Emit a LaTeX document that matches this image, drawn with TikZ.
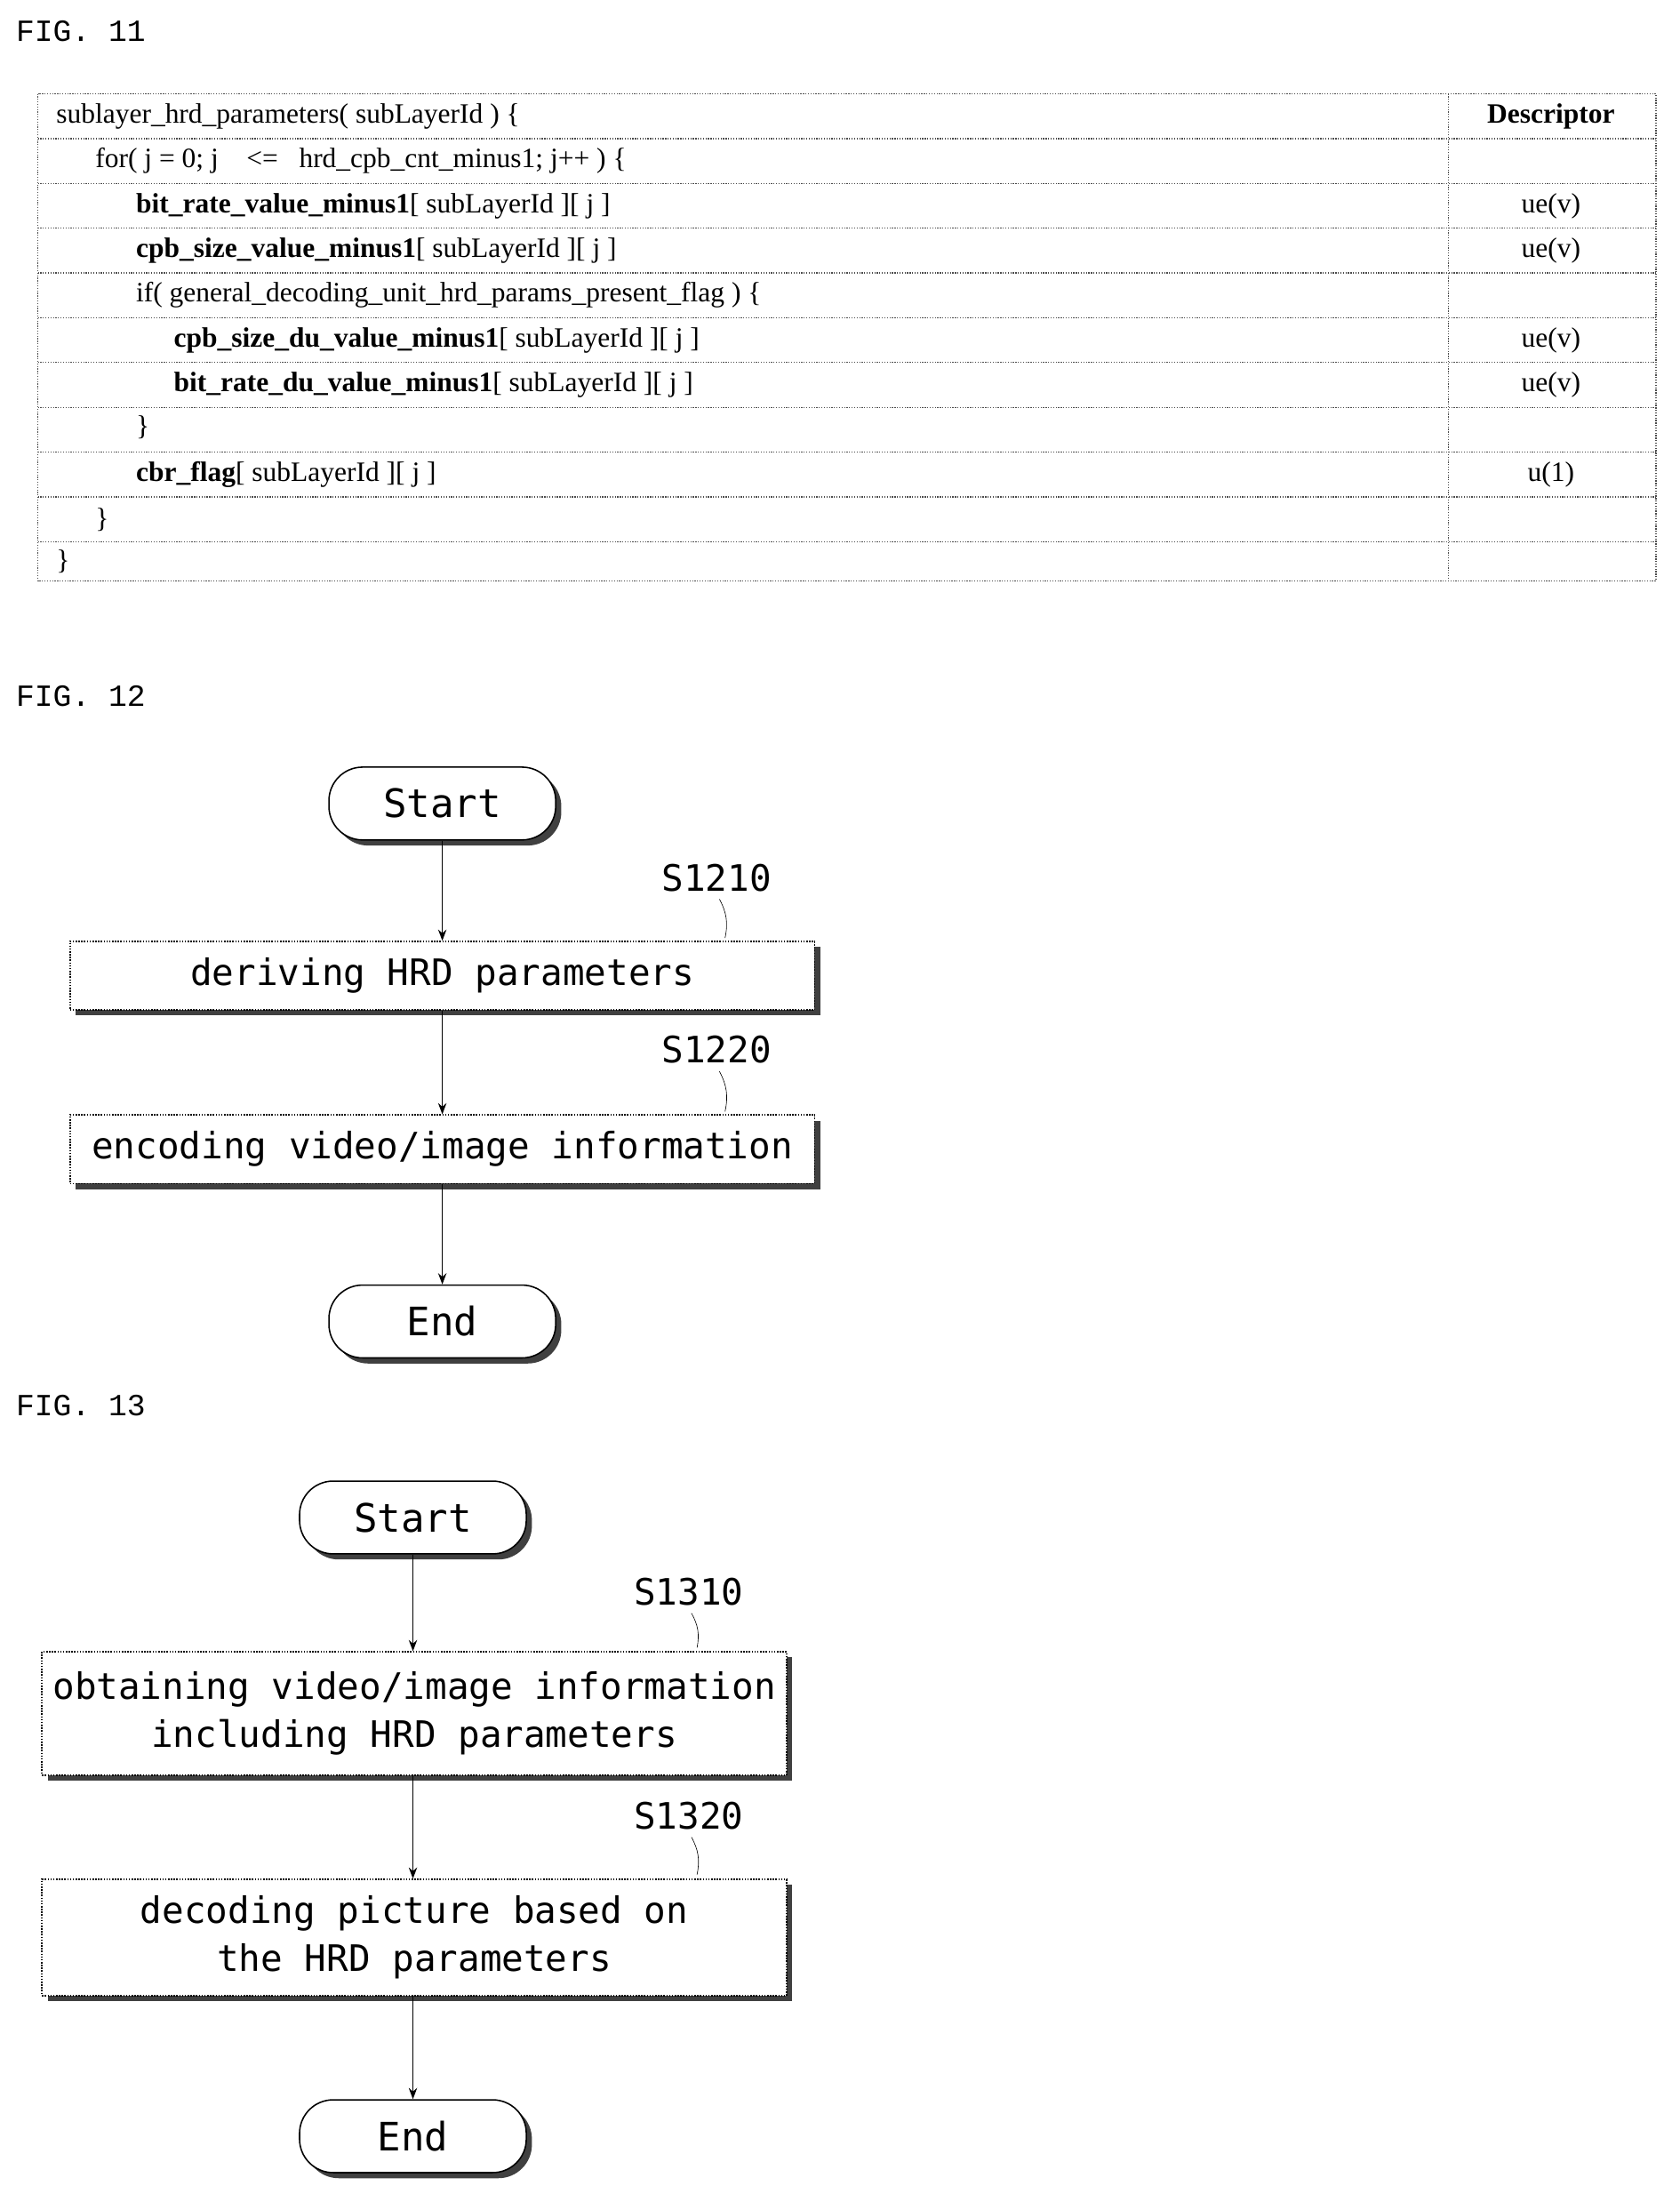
\documentclass[tikz,border=0pt]{standalone}
\usepackage{fontspec}
\setmainfont{Liberation Serif}
\newfontfamily\monof{DejaVu Sans Mono}
\newfontfamily\figf{Liberation Mono}
\usetikzlibrary{shadows,arrows.meta}
\begin{document}
\begin{tikzpicture}[x=1pt,y=-1pt,
 figlab/.style={anchor=west,font=\figf\fontsize{22}{24}\selectfont},
 cell/.style={anchor=west,font=\fontsize{20}{22}\selectfont,inner sep=0},
 desc/.style={anchor=center,font=\fontsize{20}{22}\selectfont,inner sep=0},
 tl/.style={black!70,densely dotted,line width=0.8pt},
 sh/.style={drop shadow={shadow xshift=4pt,shadow yshift=-4pt,fill=black!75,opacity=1}},
 term/.style={draw,line width=1pt,rounded corners=24pt,fill=white,sh,minimum width=162pt,minimum height=52pt,font=\monof\fontsize{28}{30}\selectfont},
 box/.style={draw,densely dotted,line width=1pt,fill=white,sh,minimum width=532pt,align=center,font=\monof\fontsize{26}{34}\selectfont},
 steplab/.style={font=\monof\fontsize{26}{28}\selectfont},
 arr/.style={-{Stealth[length=8pt,width=6pt]},line width=0.8pt}]
\useasboundingbox (0,0) rectangle (1200,1573);
\node[figlab] (f11) at (8,22) {FIG. 11};
\node[figlab] (f12) at (8,497) {FIG. 12};
\node[figlab] (f13) at (8,1004) {FIG. 13};
% table
\draw[tl] (27,67) rectangle (1183,415);
\draw[tl] (1035,67) -- (1035,415);
\foreach \y in {99,131,163,195,227,259,291,323,355,387} \draw[tl] (27,\y) -- (1183,\y);
\node[cell] (r1) at (40,83) {sublayer\_hrd\_parameters( subLayerId ) \{};
\node[desc] (d1) at (1108,83) {\textbf{Descriptor}};
\node[cell] (r2) at (68,115) {for( j = 0; j \ \ \ <= \ \ hrd\_cpb\_cnt\_minus1; j++ ) \{};
\node[cell] (r3) at (97,147) {\textbf{bit\_rate\_value\_minus1}[ subLayerId ][ j ]};
\node[desc] (d3) at (1108,147) {ue(v)};
\node[cell] (r4) at (97,179) {\textbf{cpb\_size\_value\_minus1}[ subLayerId ][ j ]};
\node[desc] (d4) at (1108,179) {ue(v)};
\node[cell] (r5) at (97,211) {if( general\_decoding\_unit\_hrd\_params\_present\_flag ) \{};
\node[cell] (r6) at (124,243) {\textbf{cpb\_size\_du\_value\_minus1}[ subLayerId ][ j ]};
\node[desc] (d6) at (1108,243) {ue(v)};
\node[cell] (r7) at (124,275) {\textbf{bit\_rate\_du\_value\_minus1}[ subLayerId ][ j ]};
\node[desc] (d7) at (1108,275) {ue(v)};
\node[cell] (r8) at (97,305) {\}};
\node[cell] (r9) at (97,339) {\textbf{cbr\_flag}[ subLayerId ][ j ]};
\node[desc] (d9) at (1108,339) {u(1)};
\node[cell] (r10) at (68,371) {\}};
\node[cell] (r11) at (40,401) {\}};
% fig 12
\node[term] (s12) at (316,574) {Start};
\node[box,minimum height=49pt] (a12) at (316,697) {deriving HRD parameters};
\node[box,minimum height=49pt] (b12) at (316,821) {encoding video/image information};
\node[term] (e12) at (316,944) {End};
\node[steplab] (l1210) at (512,627) {S1210};
\node[steplab] (l1220) at (512,750) {S1220};
\draw (l1210.south) ++(2,2) coordinate (c1) to[bend left=20] (518,670);
\draw (l1220.south) ++(2,2) coordinate (c2) to[bend left=20] (518,794);
\draw[arr] (s12) -- (a12);
\draw[arr] (a12) -- (b12);
\draw[arr] (b12) -- (e12);
% fig 13
\node[term] (s13) at (295,1084) {Start};
\node[box,minimum height=88pt] (a13) at (296,1224) {obtaining video/image information\\including HRD parameters};
\node[box,minimum height=83pt] (b13) at (296,1384) {decoding picture based on\\the HRD parameters};
\node[term] (e13) at (295,1526) {End};
\node[steplab] (l1310) at (492,1137) {S1310};
\node[steplab] (l1320) at (492,1297) {S1320};
\draw (l1310.south) ++(2,2) coordinate (c3) to[bend left=20] (498,1177);
\draw (l1320.south) ++(2,2) coordinate (c4) to[bend left=20] (498,1339);
\draw[arr] (s13) -- (s13 |- a13.north);
\draw[arr] (s13 |- a13.south) -- (s13 |- b13.north);
\draw[arr] (s13 |- b13.south) -- (e13);
\end{tikzpicture}
\end{document}
